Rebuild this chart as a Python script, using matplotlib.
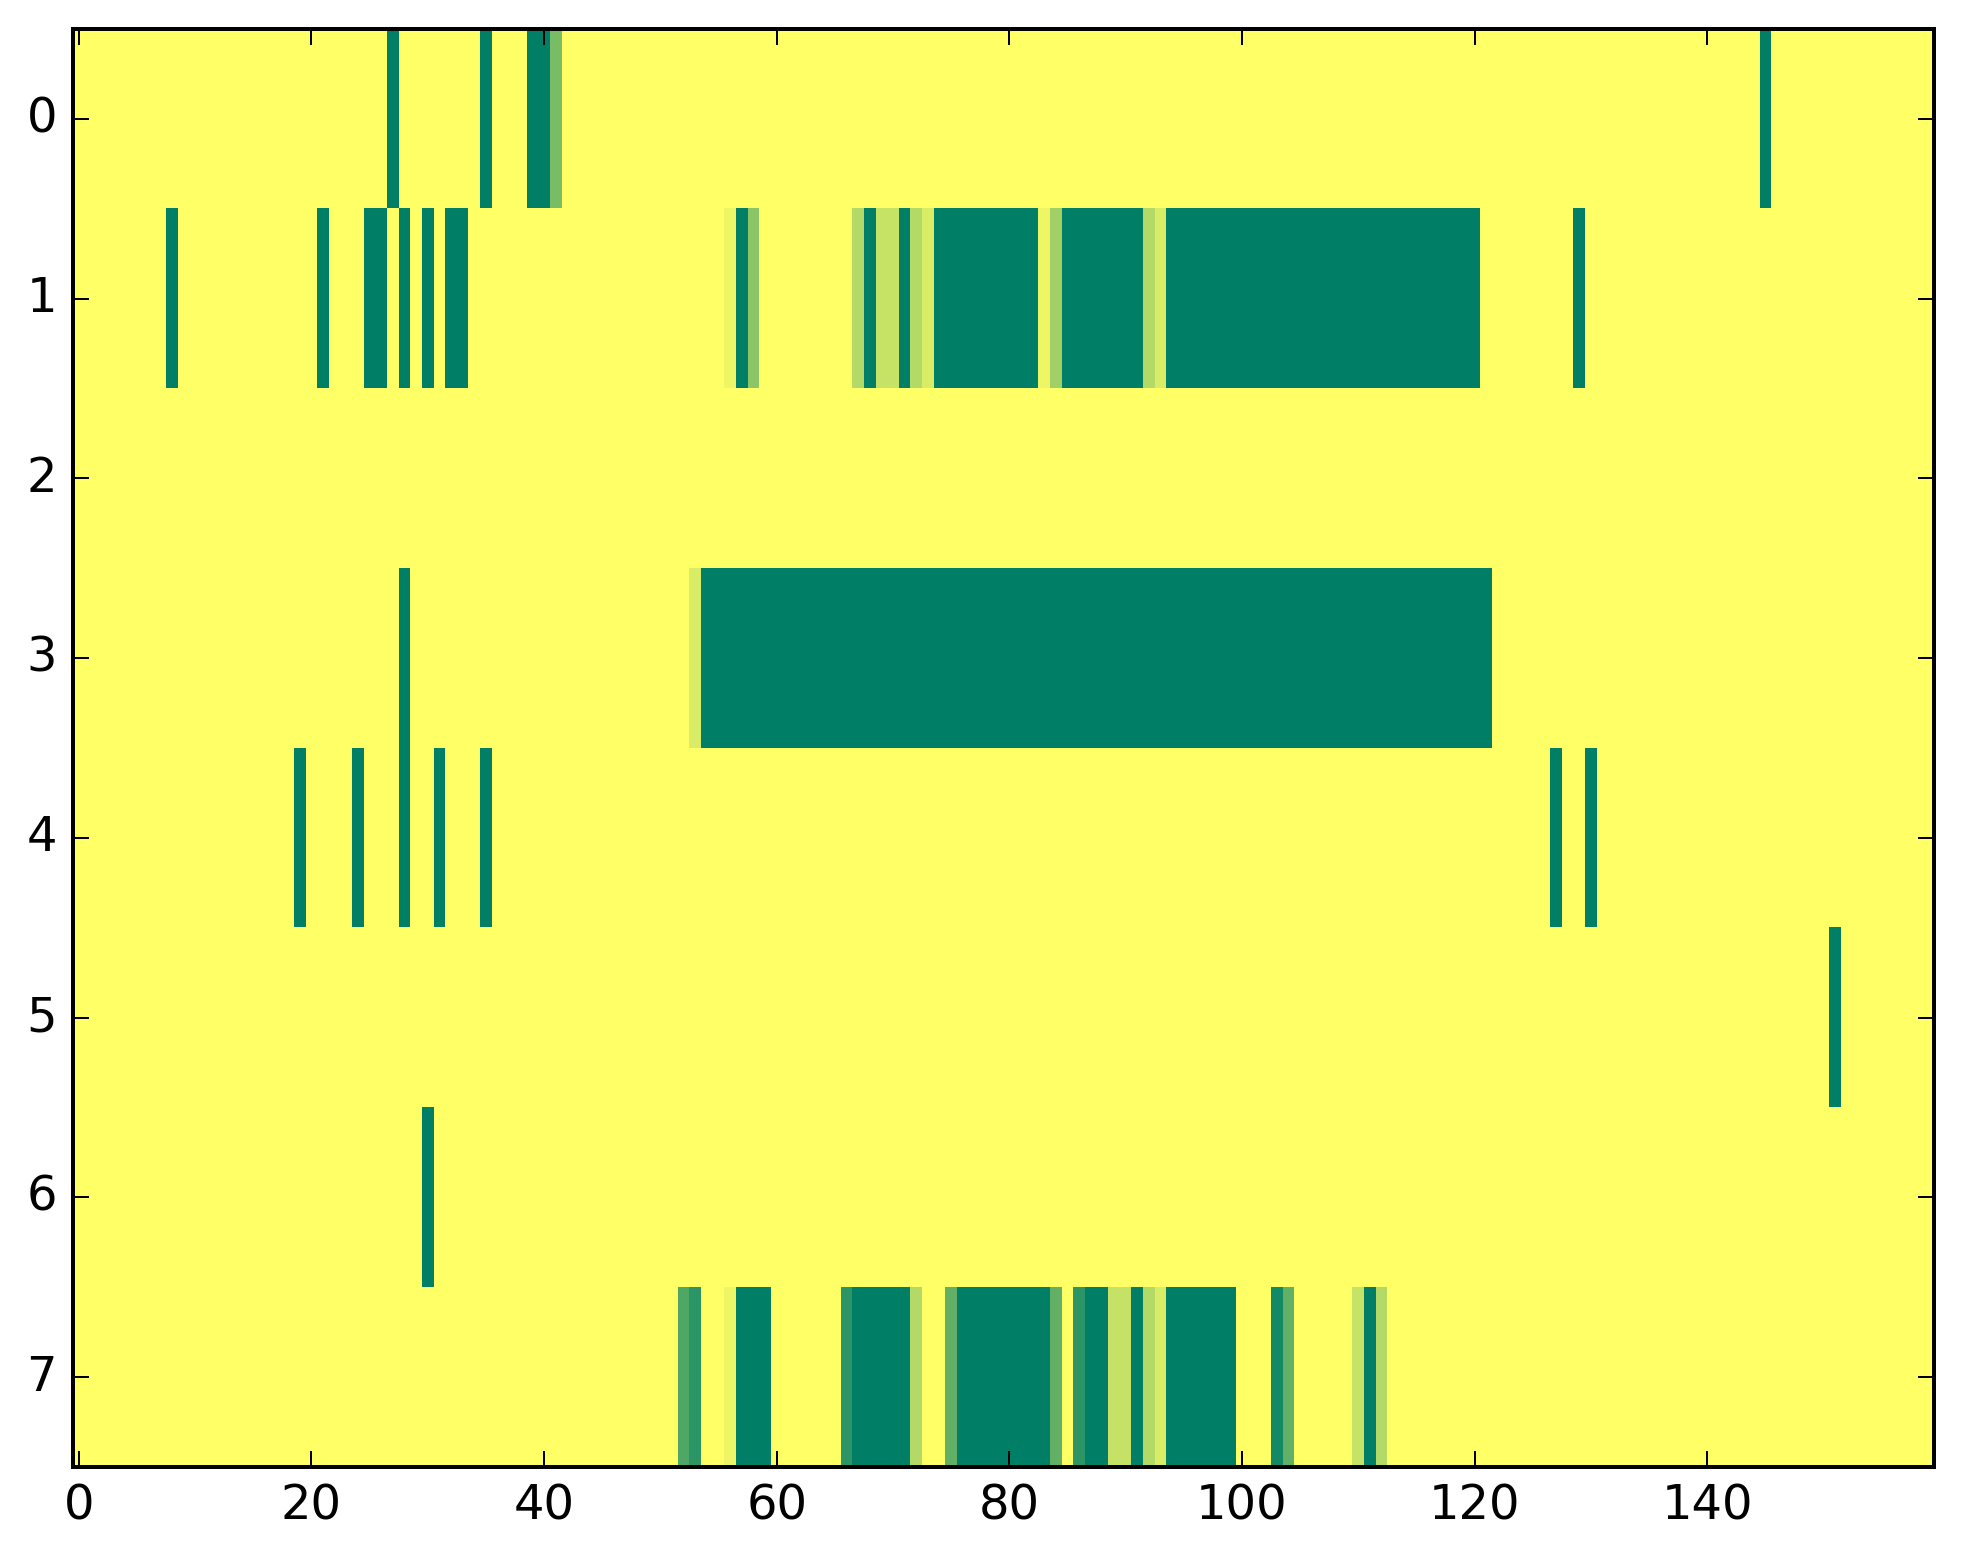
import numpy as np
import matplotlib
matplotlib.use("Agg")
import matplotlib.pyplot as plt

plt.style.use("classic")

n_cols = 160
row_labels = [0, 1, 2, 3, 4, 5, 6, 7]
x_ticks = [0, 20, 40, 60, 80, 100, 120, 140]

# runs per row: (first column, last column, value)
row0 = [(27, 27, 1.0), (35, 35, 1.0), (39, 40, 1.0), (41, 41, 0.52), (145, 145, 1.0)]
row1 = [(8, 8, 1.0), (21, 21, 1.0), (25, 26, 1.0), (28, 28, 1.0), (30, 30, 1.0),
        (32, 33, 1.0), (56, 56, 0.07), (57, 57, 1.0), (58, 58, 0.45),
        (67, 67, 0.30), (68, 68, 1.0), (69, 70, 0.22), (71, 71, 1.0),
        (72, 72, 0.30), (73, 73, 0.15), (74, 82, 1.0), (83, 83, 0.07),
        (84, 84, 0.37), (85, 91, 1.0), (92, 92, 0.30), (93, 93, 0.15),
        (94, 120, 1.0), (129, 129, 1.0)]
row2 = []
row3 = [(28, 28, 1.0), (53, 53, 0.15), (54, 121, 1.0)]
row4 = [(19, 19, 1.0), (24, 24, 1.0), (28, 28, 1.0), (31, 31, 1.0), (35, 35, 1.0),
        (127, 127, 1.0), (130, 130, 1.0)]
row5 = [(151, 151, 1.0)]
row6 = [(30, 30, 1.0)]
row7 = [(52, 52, 0.69), (53, 53, 0.83), (56, 56, 0.07), (57, 59, 1.0),
        (66, 66, 0.83), (67, 71, 1.0), (72, 72, 0.30), (75, 75, 0.62),
        (76, 83, 1.0), (84, 84, 0.62), (86, 86, 0.83), (87, 88, 1.0),
        (89, 90, 0.23), (91, 91, 1.0), (92, 92, 0.30), (93, 93, 0.15),
        (94, 99, 1.0), (103, 103, 0.92), (104, 104, 0.62), (110, 110, 0.22),
        (111, 111, 1.0), (112, 112, 0.30)]

rows = [row0, row1, row2, row3, row4, row5, row6, row7]
data = np.zeros((len(rows), n_cols))
for i, runs in enumerate(rows):
    for a, b, v in runs:
        data[i, a:b + 1] = v

dpi = 288
fig = plt.figure(figsize=(1963 / dpi, 1564 / dpi), dpi=dpi)
ax = fig.add_axes([73 / 1963, 1 - 1467 / 1564, 1861 / 1963, (1467 - 29) / 1564])
ax.imshow(data, cmap="summer_r", aspect="auto", interpolation="nearest",
          vmin=0, vmax=1)
ax.set_xticks(x_ticks)
ax.set_yticks(row_labels)
ax.set_xlim(-0.5, n_cols - 0.5)
ax.set_ylim(len(rows) - 0.5, -0.5)

fig.savefig("out.png", dpi=dpi, facecolor="white")
